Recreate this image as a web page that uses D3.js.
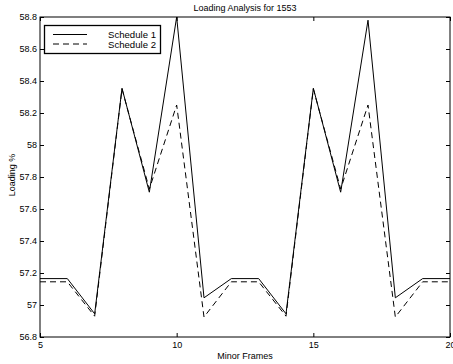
<!DOCTYPE html>
<html><head><meta charset="utf-8">
<script src="https://cdn.jsdelivr.net/npm/d3@7"></script>
<style>body{margin:0;background:#fff}svg{display:block}text{font-family:"Liberation Sans",Arial,sans-serif;fill:#000}</style>
</head><body><svg id="c" width="453" height="364"></svg>
<script>
const frames = [5,6,7,8,9,10,11,12,13,14,15,16,17,18,19,20];
const schedule1 = [57.165,57.165,56.945,58.355,57.705,58.80,57.045,57.165,57.165,56.945,58.355,57.705,58.78,57.045,57.165,57.165];
const schedule2 = [57.145,57.145,56.93,58.35,57.725,58.25,56.925,57.145,57.145,56.93,58.35,57.725,58.25,56.925,57.145,57.145];
const xTicks = [5,10,15,20];
const yTicks = [56.8,57,57.2,57.4,57.6,57.8,58,58.2,58.4,58.6,58.8];
const seriesNames = ["Schedule 1","Schedule 2"];

const svg = d3.select("#c");
const L=40,R=450,T=17,B=337;
const x = d3.scaleLinear().domain([5,20]).range([L,R]);
const y = d3.scaleLinear().domain([56.8,58.8]).range([B,T]);
const tk=4;
const fmt = d => String(+d.toFixed(1));

svg.append("rect").attr("x",L).attr("y",T).attr("width",R-L).attr("height",B-T).attr("fill","none").attr("stroke","#000").attr("stroke-width",1);

const gx = svg.append("g").attr("transform",`translate(0,${B})`)
  .call(d3.axisBottom(x).tickValues(xTicks).tickSizeInner(-tk).tickSizeOuter(0).tickFormat(fmt));
const gxt = svg.append("g").attr("transform",`translate(0,${T})`)
  .call(d3.axisTop(x).tickValues(xTicks).tickSizeInner(-tk).tickSizeOuter(0).tickFormat(""));
const gy = svg.append("g").attr("transform",`translate(${L},0)`)
  .call(d3.axisLeft(y).tickValues(yTicks).tickSizeInner(-tk).tickSizeOuter(0).tickPadding(3).tickFormat(fmt));
const gyr = svg.append("g").attr("transform",`translate(${R},0)`)
  .call(d3.axisRight(y).tickValues(yTicks).tickSizeInner(-tk).tickSizeOuter(0).tickFormat(""));
[gx,gxt,gy,gyr].forEach(g=>{g.select(".domain").remove();g.selectAll("line").attr("stroke","#000");g.selectAll("text").attr("font-size",9).attr("font-family","Liberation Sans, Arial, sans-serif");});
gx.selectAll("text").attr("y",11).attr("dy",0);

const line = d3.line().x((d,i)=>x(frames[i])).y(d=>y(d));
svg.append("path").datum(schedule2).attr("d",line).attr("fill","none").attr("stroke","#000").attr("stroke-width",1).attr("stroke-dasharray","6,4");
svg.append("path").datum(schedule1).attr("d",line).attr("fill","none").attr("stroke","#000").attr("stroke-width",1);

const lg = svg.append("g");
lg.append("rect").attr("x",44.5).attr("y",25.5).attr("width",116).attr("height",28).attr("fill","#fff").attr("stroke","#000").attr("stroke-width",1.3);
lg.append("line").attr("x1",53).attr("x2",87).attr("y1",34.5).attr("y2",34.5).attr("stroke","#000");
lg.append("line").attr("x1",53).attr("x2",87).attr("y1",44).attr("y2",44).attr("stroke","#000").attr("stroke-dasharray","6,4");
lg.append("text").attr("x",108).attr("y",38).attr("font-size",9.6).text(seriesNames[0]);
lg.append("text").attr("x",108).attr("y",47.5).attr("font-size",9.6).text(seriesNames[1]);

svg.append("text").attr("x",245).attr("y",11).attr("text-anchor","middle").attr("font-size",9).text("Loading Analysis for 1553");
svg.append("text").attr("x",245).attr("y",359).attr("text-anchor","middle").attr("font-size",9).text("Minor Frames");
svg.append("text").attr("transform","translate(15,175) rotate(-90)").attr("text-anchor","middle").attr("font-size",9).text("Loading %");
</script></body></html>
